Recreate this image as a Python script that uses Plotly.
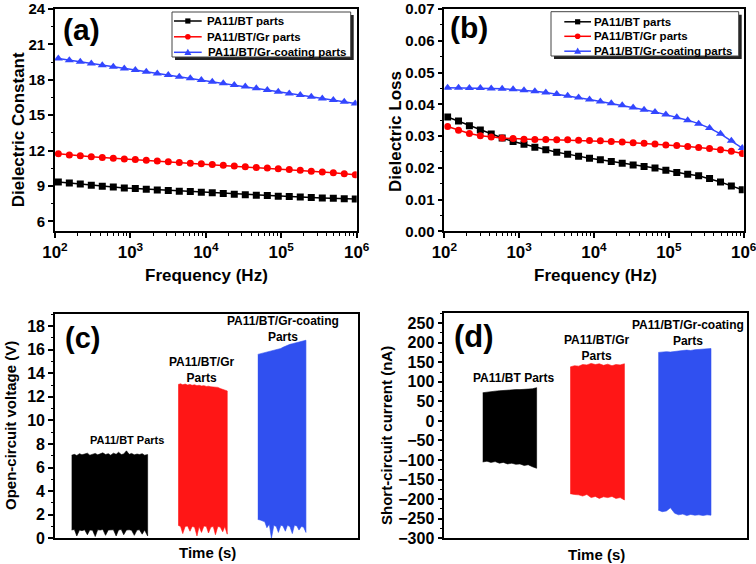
import plotly.graph_objects as go

# ---------------- DATA ----------------
freq = [110.7, 154.9, 216.4, 302.9, 423.6, 592.9, 829.8, 1161, 1622, 2270, 3177, 4446,
        6223, 8710, 12160, 17020, 23820, 33340, 46670, 65310, 91200, 127600, 178600,
        250000, 349900, 489800, 683900, 957200]

series_names = ["PA11/BT parts", "PA11/BT/Gr parts", "PA11/BT/Gr-coating parts"]

const_bt = [9.34, 9.25, 9.17, 9.06, 8.97, 8.91, 8.83, 8.77, 8.72, 8.66, 8.60, 8.55, 8.52, 8.46,
            8.41, 8.35, 8.30, 8.25, 8.21, 8.18, 8.13, 8.10, 8.06, 8.01, 7.98, 7.95, 7.92, 7.88]
const_gr = [11.72, 11.62, 11.55, 11.48, 11.41, 11.35, 11.29, 11.23, 11.17, 11.11, 11.05, 10.99,
            10.93, 10.87, 10.81, 10.75, 10.69, 10.63, 10.57, 10.51, 10.45, 10.39, 10.32, 10.25,
            10.18, 10.11, 10.03, 9.95]
const_gc = [19.81, 19.66, 19.52, 19.38, 19.24, 19.10, 18.96, 18.82, 18.68, 18.54, 18.40, 18.26,
            18.12, 17.98, 17.84, 17.70, 17.56, 17.42, 17.28, 17.13, 16.98, 16.84, 16.70, 16.56,
            16.42, 16.28, 16.14, 15.99]

loss_bt = [0.0360, 0.0347, 0.0332, 0.0319, 0.0306, 0.0294, 0.0283, 0.0274, 0.0265, 0.0257,
           0.0249, 0.0243, 0.0236, 0.0230, 0.0225, 0.0220, 0.0214, 0.0209, 0.0204, 0.0199,
           0.0192, 0.0185, 0.0180, 0.0175, 0.0166, 0.0155, 0.0143, 0.0131]
loss_gr = [0.0330, 0.0318, 0.0308, 0.0301, 0.0297, 0.0294, 0.0292, 0.0290, 0.0289, 0.0289,
           0.0288, 0.0288, 0.0287, 0.0286, 0.0285, 0.0283, 0.0281, 0.0279, 0.0277, 0.0275,
           0.0272, 0.0270, 0.0267, 0.0264, 0.0261, 0.0257, 0.0252, 0.0245]
loss_gc = [0.0452, 0.0452, 0.0451, 0.0451, 0.0450, 0.0449, 0.0447, 0.0444, 0.0441, 0.0437,
           0.0432, 0.0427, 0.0421, 0.0415, 0.0409, 0.0403, 0.0397, 0.0390, 0.0383, 0.0376,
           0.0368, 0.0359, 0.0350, 0.0339, 0.0325, 0.0307, 0.0285, 0.0262]

# (c) open-circuit voltage envelopes (time in arbitrary units)
v_bt_t = [5.5, 6.4, 7.2, 8.1, 8.9, 9.8, 10.7, 11.5, 12.4, 13.3, 14.1, 15.0, 15.8, 16.7, 17.6,
          18.4, 19.3, 20.2, 21.0, 21.9, 22.7, 23.6, 24.5, 25.3, 26.2, 27.1, 27.9, 28.8, 29.6, 30.6]
v_bt_top = [7.05, 7.12, 7.02, 7.18, 7.08, 7.15, 7.22, 7.05, 7.12, 7.20, 7.08, 7.15, 7.25, 7.10,
            7.18, 7.05, 7.22, 7.12, 7.30, 7.10, 7.15, 7.42, 7.12, 7.20, 7.08, 7.15, 7.10, 7.18,
            7.05, 7.10]
v_bt_bot = [0.70, 0.75, 0.20, 0.70, 0.65, 0.72, 0.30, 0.70, 0.68, 0.15, 0.72, 0.70, 0.75, 0.25,
            0.70, 0.68, 0.72, 0.20, 0.70, 0.75, 0.30, 0.70, 0.72, 0.68, 0.25, 0.70, 0.72, 0.35,
            0.70, 0.20]
v_gr_t = [40.7, 41.5, 42.2, 43.0, 43.8, 44.6, 45.3, 46.1, 46.9, 47.6, 48.4, 49.2, 50.0, 50.7,
          51.5, 52.3, 53.0, 53.8, 54.6, 55.4, 56.1, 56.9]
v_gr_top = [13.05, 13.10, 13.02, 13.08, 13.00, 13.05, 12.98, 13.02, 12.95, 12.98, 12.92, 12.95,
            12.88, 12.90, 12.85, 12.82, 12.78, 12.80, 12.70, 12.62, 12.55, 12.50]
v_gr_bot = [1.10, 1.00, 0.40, 1.00, 1.05, 0.60, 1.00, 0.95, 0.20, 1.00, 0.50, 1.05, 1.00, 0.45,
            0.95, 1.00, 0.30, 1.00, 0.95, 0.55, 1.00, 0.35]
v_gc_t = [67.0, 67.8, 68.5, 69.3, 70.0, 70.8, 71.5, 72.3, 73.1, 73.8, 74.6, 75.3, 76.1, 76.8,
          77.6, 78.4, 79.1, 79.9, 80.6, 81.4, 82.1, 82.9]
v_gc_top = [15.60, 15.65, 15.70, 15.72, 15.75, 15.80, 15.85, 15.90, 15.95, 16.00, 16.10, 16.20,
            16.30, 16.40, 16.45, 16.50, 16.55, 16.60, 16.65, 16.70, 16.75, 16.80]
v_gc_bot = [1.60, 1.55, 1.50, 1.40, 0.90, 1.20, 0.00, 1.10, 1.00, 0.50, 1.10, 1.05, 0.60, 1.10,
            1.00, 0.40, 1.10, 1.05, 0.70, 1.00, 0.95, 0.50]

# (d) short-circuit current envelopes
i_bt_t = [12.7, 14.1, 15.4, 16.8, 18.2, 19.5, 20.9, 22.3, 23.6, 25.0, 26.4, 27.7, 29.1, 30.5]
i_bt_top = [72, 74, 75, 76, 77, 78, 78, 79, 80, 80, 81, 82, 82, 85]
i_bt_bot = [-105, -103, -106, -104, -108, -106, -110, -108, -111, -110, -114, -112, -117, -121]
i_gr_t = [41.6, 43.0, 44.4, 45.7, 47.1, 48.5, 49.9, 51.2, 52.6, 54.0, 55.4, 56.7, 58.1, 59.5]
i_gr_top = [138, 141, 140, 144, 143, 147, 144, 146, 142, 145, 141, 144, 143, 146]
i_gr_bot = [-186, -188, -189, -192, -188, -196, -193, -198, -194, -196, -193, -198, -196, -202]
i_gc_t = [70.7, 72.0, 73.4, 74.7, 76.1, 77.4, 78.8, 80.1, 81.4, 82.8, 84.1, 85.5, 86.8, 88.1]
i_gc_top = [175, 176, 177, 176, 178, 179, 180, 181, 180, 182, 183, 183, 184, 185]
i_gc_bot = [-228, -232, -230, -222, -236, -240, -238, -242, -239, -241, -240, -242, -240, -241]

block_labels = ["PA11/BT Parts", "PA11/BT/Gr<br>Parts", "PA11/BT/Gr-coating<br>Parts"]

# ---------------- STYLE ----------------
W, H = 756, 564
FONT = "Liberation Sans, Arial, sans-serif"
BLACK, RED, BLUE = "#000000", "#ff0000", "#3346ff"
BLK_FILL = ["#000000", "#ff1616", "#3050f0"]
SYMBOLS = ["square", "circle", "triangle-up"]
COLORS = [BLACK, RED, BLUE]


def X(p):
    return p / W


def Y(p):
    return 1 - p / H


fig = go.Figure()

# (a) and (b) line plots
for (yax, xax, sets) in [("y", "x", [const_bt, const_gr, const_gc]),
                         ("y2", "x2", [loss_bt, loss_gr, loss_gc])]:
    for k, vals in enumerate(sets):
        fig.add_trace(go.Scatter(
            x=freq, y=vals, xaxis=xax, yaxis=yax, mode="lines+markers",
            name=series_names[k],
            line=dict(color=COLORS[k], width=1.5),
            marker=dict(symbol=SYMBOLS[k], size=7 if k < 2 else 8, color=COLORS[k]),
            showlegend=False))


def block(t, top, bot, color, xax, yax):
    fig.add_trace(go.Scatter(
        x=t + t[::-1], y=top + bot[::-1], xaxis=xax, yaxis=yax, mode="lines",
        fill="toself", fillcolor=color, line=dict(color=color, width=0.6),
        showlegend=False, hoverinfo="skip"))


block(v_bt_t, v_bt_top, v_bt_bot, BLK_FILL[0], "x3", "y3")
block(v_gr_t, v_gr_top, v_gr_bot, BLK_FILL[1], "x3", "y3")
block(v_gc_t, v_gc_top, v_gc_bot, BLK_FILL[2], "x3", "y3")
block(i_bt_t, i_bt_top, i_bt_bot, BLK_FILL[0], "x4", "y4")
block(i_gr_t, i_gr_top, i_gr_bot, BLK_FILL[1], "x4", "y4")
block(i_gc_t, i_gc_top, i_gc_bot, BLK_FILL[2], "x4", "y4")

tf_top = dict(family=FONT, size=15, color="black", weight="bold")
tf_x = dict(family=FONT, size=13.5, color="black", weight="bold")
tf_bot = dict(family=FONT, size=16, color="black", weight="bold")
common = dict(showline=True, linecolor="black", linewidth=1.6, mirror=True,
              showgrid=False, zeroline=False, ticks="outside", ticklen=5,
              tickwidth=1.5, tickcolor="black", automargin=False,
              ticklabeloverflow="allow")

logx = dict(type="log", range=[2, 6], dtick=1, exponentformat="power", tickfont=tf_x,
            minor=dict(ticks="outside", ticklen=2.5, tickwidth=1.2, dtick="D1",
                       tickcolor="black", showgrid=False), **common)
timex = dict(range=[0, 100], showline=True, linecolor="black", linewidth=1.6,
             mirror=True, showgrid=False, zeroline=False, ticks="",
             showticklabels=False, automargin=False)

fig.update_layout(
    width=W, height=H, margin=dict(l=0, r=0, t=0, b=0, autoexpand=False),
    plot_bgcolor="white", paper_bgcolor="white", showlegend=False,
    font=dict(family=FONT, color="black"),
    xaxis=dict(domain=[X(55), X(356.7)], anchor="y", **logx),
    yaxis=dict(domain=[Y(231.3), Y(9)], anchor="x", range=[5.15, 24], dtick=3, tick0=0,
               tickfont=tf_top,
               minor=dict(ticks="outside", ticklen=2.5, tickwidth=1.2, dtick=1.5, tick0=0,
                          tickcolor="black"), **common),
    xaxis2=dict(domain=[X(444.3), X(743.7)], anchor="y2", **logx),
    yaxis2=dict(domain=[Y(231.3), Y(9)], anchor="x2", range=[0, 0.07], dtick=0.01,
                tickformat=".2f", tickfont=tf_top,
                minor=dict(ticks="outside", ticklen=2.5, tickwidth=1.2, dtick=0.005,
                           tickcolor="black"), **common),
    xaxis3=dict(domain=[X(55), X(357.7)], anchor="y3", **timex),
    yaxis3=dict(domain=[Y(538.3), Y(314.3)], anchor="x3", range=[0, 19], dtick=2,
                tickfont=tf_bot,
                minor=dict(ticks="outside", ticklen=2.5, tickwidth=1.2, dtick=1,
                           tickcolor="black"), **common),
    xaxis4=dict(domain=[X(444.3), X(747)], anchor="y4", **timex),
    yaxis4=dict(domain=[Y(538.3), Y(313.3)], anchor="x4", range=[-300, 275], dtick=50,
                tick0=0, tickfont=tf_bot,
                minor=dict(ticks="outside", ticklen=2.5, tickwidth=1.2, dtick=25, tick0=0,
                           tickcolor="black"), **common),
)

ann = []


def txt(x, y, s, size, bold=True, angle=0, xanchor="center"):
    ann.append(dict(x=X(x), y=Y(y), xref="paper", yref="paper", text=s, showarrow=False,
                    xanchor=xanchor, yanchor="middle", textangle=angle,
                    font=dict(family=FONT, size=size, color="black",
                              weight="bold" if bold else "normal")))


# axis titles
txt(206, 275, "Frequency (Hz)", 17)
txt(595, 275, "Frequency (Hz)", 17)
txt(18.3, 130, "Dielectric Constant", 17, angle=-90)
txt(395, 131, "Dielectric Loss", 17, angle=-90)
txt(10, 426, "Open-circuit voltage (V)", 15, angle=-90)
txt(386, 436, "Short-circuit current (nA)", 15, angle=-90)
txt(207.5, 552, "Time (s)", 15)
txt(596, 554, "Time (s)", 15)

# panel labels
txt(81, 29, "(a)", 30)
txt(469, 28, "(b)", 30)
txt(82.5, 338, "(c)", 29)
txt(474, 337, "(d)", 31)

# block labels
txt(126.7, 440, block_labels[0], 11)
txt(201.7, 370, block_labels[1], 12)
txt(283, 329, block_labels[2], 12)
txt(513.3, 378, block_labels[0], 12)
txt(596, 348, block_labels[1], 12)
txt(687.7, 333, block_labels[2], 12)

# manual legends with drop shadow
shapes = []
legends = [
    dict(box=(172, 12, 350.7, 57), lx=(174, 201.7), tx=205.5, rows=(21, 36.8, 52.3)),
    dict(box=(551, 11.7, 738.7, 56), lx=(564.3, 591), tx=591.5, rows=(21.8, 36.3, 51.2)),
]
for L in legends:
    x0, y0, x1, y1 = L["box"]
    shapes.append(dict(type="rect", xref="paper", yref="paper", x0=X(x0 + 3), x1=X(x1 + 3),
                       y0=Y(y1 + 3), y1=Y(y0 + 3), fillcolor="#222222",
                       line=dict(width=0)))
    shapes.append(dict(type="rect", xref="paper", yref="paper", x0=X(x0), x1=X(x1),
                       y0=Y(y1), y1=Y(y0), fillcolor="white",
                       line=dict(color="#444444", width=1)))
    for k, ry in enumerate(L["rows"]):
        la, lb = L["lx"]
        cx = (la + lb) / 2
        shapes.append(dict(type="line", xref="paper", yref="paper", x0=X(la), x1=X(lb),
                           y0=Y(ry), y1=Y(ry), line=dict(color=COLORS[k], width=1.5)))
        if k == 0:
            shapes.append(dict(type="rect", xref="paper", yref="paper", x0=X(cx - 2.6),
                               x1=X(cx + 2.6), y0=Y(ry + 2.6), y1=Y(ry - 2.6),
                               fillcolor=BLACK, line=dict(width=0)))
        elif k == 1:
            shapes.append(dict(type="circle", xref="paper", yref="paper", x0=X(cx - 2.8),
                               x1=X(cx + 2.8), y0=Y(ry + 2.8), y1=Y(ry - 2.8),
                               fillcolor=RED, line=dict(width=0)))
        else:
            path = (f"M {X(cx - 3.5)},{Y(ry + 2.6)} L {X(cx + 3.5)},{Y(ry + 2.6)} "
                    f"L {X(cx)},{Y(ry - 3.6)} Z")
            shapes.append(dict(type="path", xref="paper", yref="paper", path=path,
                               fillcolor=BLUE, line=dict(width=0)))
        txt(L["tx"], ry, series_names[k], 11.5, xanchor="left")

fig.update_layout(annotations=ann, shapes=shapes)
fig.write_html("out.html")
